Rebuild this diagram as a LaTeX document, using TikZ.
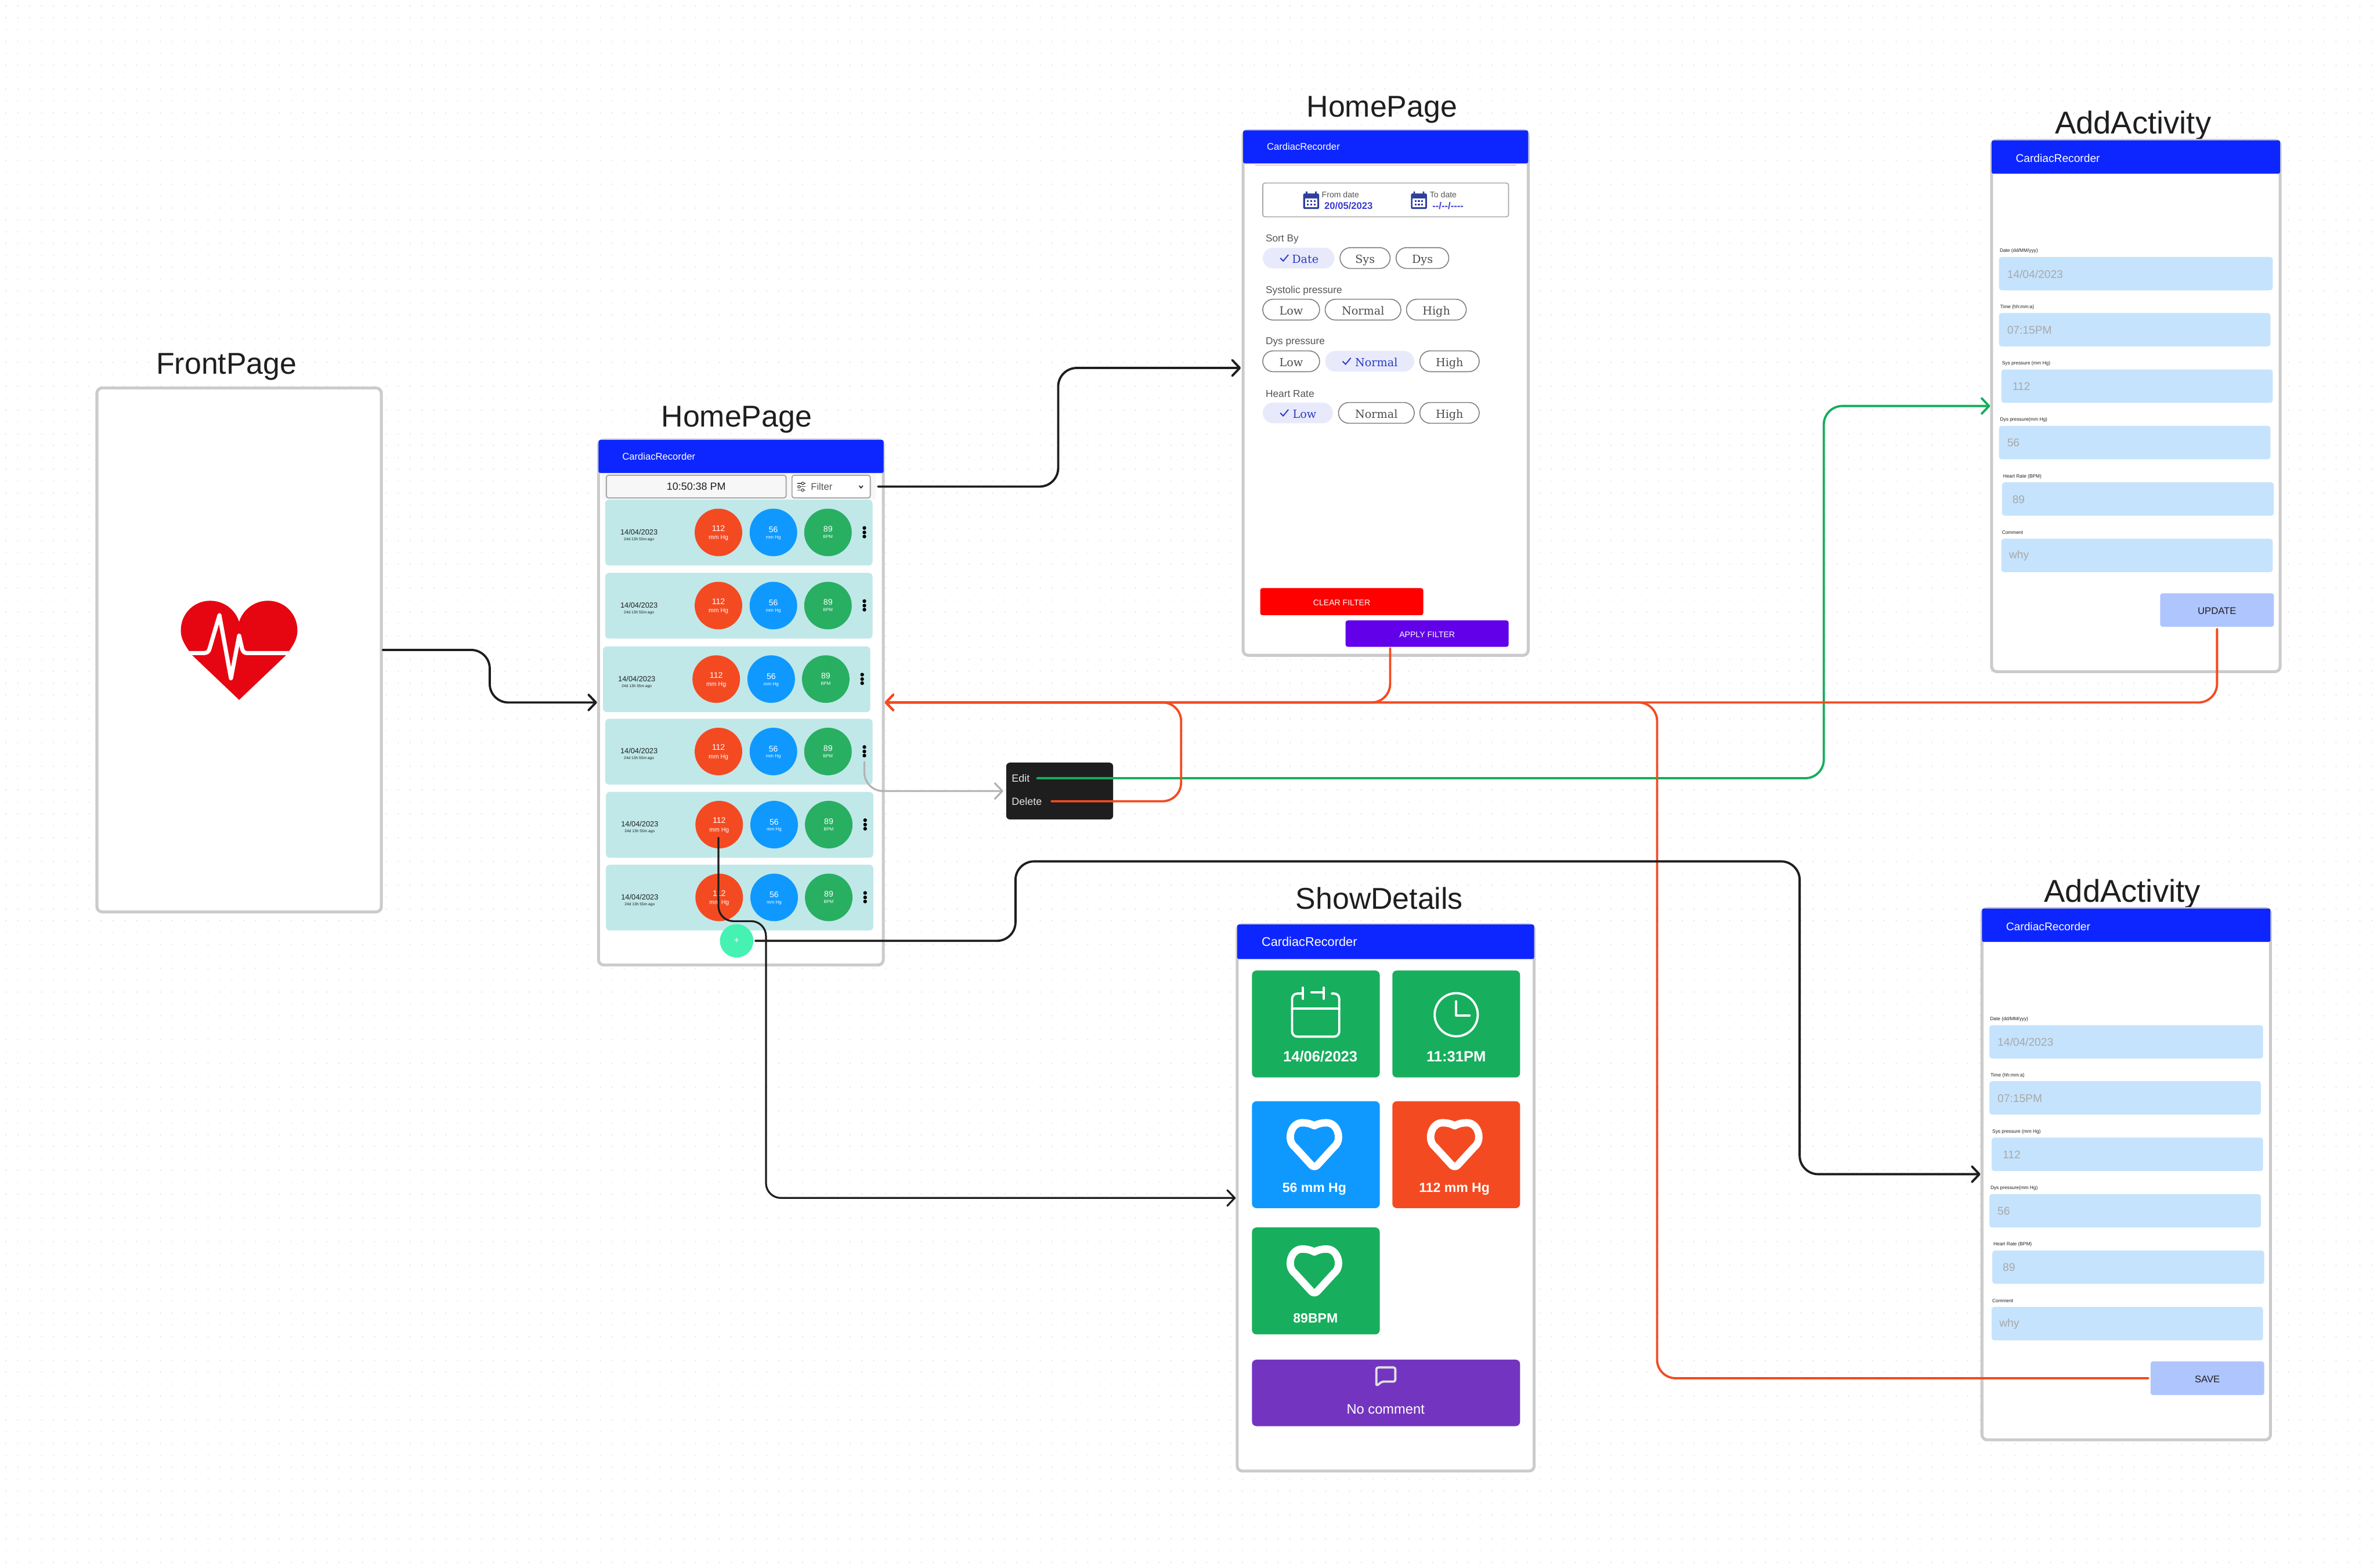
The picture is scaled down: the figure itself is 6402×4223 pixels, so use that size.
\documentclass[tikz,border=0pt]{standalone}
\usepackage{fontspec}
\setmainfont{Liberation Sans}
\newfontfamily\chipfont{DejaVu Serif}
\usetikzlibrary{arrows.meta}
\newcommand{\fpx}[1]{\fontsize{\fpeval{#1*0.2845}}{\fpeval{#1*0.3}}\selectfont}
\definecolor{ink}{HTML}{1E1E1E}
\definecolor{hdr}{HTML}{0D26FF}
\definecolor{pborder}{HTML}{CBCBCB}
\definecolor{tile}{HTML}{C0E8E9}
\definecolor{cred}{HTML}{F44A22}
\definecolor{cblue}{HTML}{0F99FF}
\definecolor{cgreen}{HTML}{28AF62}
\definecolor{tgreen}{HTML}{17AE5E}
\definecolor{cgrn}{HTML}{14AE5C}
\definecolor{cpurple}{HTML}{7335C0}
\definecolor{fieldbg}{HTML}{C5E3FD}
\definecolor{fieldtx}{HTML}{A8A8A8}
\definecolor{btnbg}{HTML}{AFC5FD}
\definecolor{chipsel}{HTML}{E8EAFC}
\definecolor{chiptx}{HTML}{2A3BC0}
\definecolor{caldark}{HTML}{2E3F9E}
\definecolor{datetx}{HTML}{3A3AD0}
\definecolor{softgray}{HTML}{555555}
\definecolor{fabc}{HTML}{45F2B2}
\definecolor{heartred}{HTML}{E60612}
\definecolor{applyc}{HTML}{6200EA}
\tikzset{
  x=0.01cm,y=-0.01cm,
  dotst/.style={draw=black!9,line width=.04cm,line cap=round,dash pattern=on 0.001cm off 0.319cm},
  panelst/.style={draw=pborder,fill=white,line width=.08cm,rounded corners=.14cm,inner sep=0},
  header/.style={fill=hdr,rounded corners=.05cm,inner sep=0,outer sep=0},
  box/.style={inner sep=0,outer sep=0,rounded corners=.06cm},
  txt/.style={inner sep=0,outer sep=0},
  title/.style={txt,text=ink,font=\fpx{81}},
  conn/.style={-{Straight Barb[length=.2cm,width=.42cm,round]},line width=.06cm,line cap=round,rounded corners=.5cm},
  chipoff/.style={box,rounded corners=.28cm,draw=black!50,line width=.025cm,fill=white,text=black!70,text height=.27cm,text depth=0cm,font=\chipfont\fpx{30}},
  chipon/.style={box,rounded corners=.28cm,fill=chipsel,text=chiptx,text height=.27cm,text depth=0cm,font=\chipfont\fpx{30}},
  checkst/.style={draw=chiptx,line width=.03cm},
  heartst/.style={draw=white,line width=.2cm,line join=round},
  iconst/.style={draw=white,line width=.06cm,line cap=round},
}
\newcommand{\panelnode}[5]{\node[panelst,anchor=north west,minimum width={((#4)-(#2)-8)*0.01cm},minimum height={((#5)-(#3)-8)*0.01cm}] (#1) at (#2,#3) {};}
\newcommand{\boxnode}[6]{\node[box,#6,anchor=north west,minimum width={((#4)-(#2))*0.01cm},minimum height={((#5)-(#3))*0.01cm}] (#1) at (#2,#3) {};}
\newcommand{\chipnode}[6]{\node[#1,anchor=north west,minimum width={((#4)-(#3))*0.01cm},minimum height=.56cm] (#2) at (#3,#5) {#6};}
\newcommand{\chiptick}[1]{\draw[checkst] ([xshift=.47cm]#1.west) -- ++(8,8) -- ++(14,-17);}
\newcommand{\calicon}[2]{%
  \fill[caldark,rounded corners=.03cm] (#1,#2+5) rectangle (#1+43,#2+47);
  \fill[caldark] (#1+7,#2) rectangle (#1+11,#2+8) (#1+32,#2) rectangle (#1+36,#2+8);
  \fill[white] (#1+5,#2+19) rectangle (#1+38,#2+42);
  \foreach \u in {10,19,28}{\foreach \v in {23,33}{\fill[caldark] (#1+\u,#2+\v) rectangle (#1+\u+5,#2+\v+5);}}
}
\newcommand{\oheart}[2]{%
  \draw[heartst,shift={(#1,#2)}] (0,18) .. controls (-10,12) and (-22,10) .. (-33,10)
    .. controls (-52,10) and (-65,28) .. (-65,49) .. controls (-65,60) and (-60,70) .. (-52,76)
    -- (-8,124) .. controls (-4,129) and (4,129) .. (8,124) -- (52,76)
    .. controls (60,70) and (65,60) .. (65,49) .. controls (65,28) and (52,10) .. (33,10)
    .. controls (22,10) and (10,12) .. (0,18) -- cycle;
}
\begin{document}
\begin{tikzpicture}
\useasboundingbox (0,0) rectangle (6402,4223);
\fill[white] (0,0) rectangle (6402,4223);
\foreach \k in {0,...,131}{\draw[dotst] (16,{16+32*\k}) -- (6390,{16+32*\k});}

% ---------- titles
\node[title] (tFront) at (610,988) {FrontPage};
\node[title] (tHome) at (1984,1130) {HomePage};
\node[title] (tFilter) at (3722,295) {HomePage};
\node[title,font=\fpx{85}] (tAddA) at (5745,339) {AddActivity};
\node[title] (tDetails) at (3715,2419) {ShowDetails};
\node[title,font=\fpx{85}] (tAddB) at (5716,2408) {AddActivity};

% ---------- FrontPage
\panelnode{front}{257}{1041}{1031}{2460}
\fill[heartred] (644,1885) -- (518,1765) -- (509,1753)
  .. controls (497,1735) and (487,1720) .. (487,1698)
  .. controls (487,1652) and (523,1618) .. (566,1618)
  .. controls (603,1618) and (634,1642) .. (644,1675)
  .. controls (654,1642) and (685,1618) .. (722,1618)
  .. controls (765,1618) and (801,1652) .. (801,1698)
  .. controls (801,1720) and (791,1735) .. (779,1753) -- (770,1765) -- cycle;
\draw[white,line width=.11cm,line join=round,line cap=round] (495,1759) -- (548,1759)
  .. controls (558,1759) and (563,1755) .. (565,1745) -- (591,1657) -- (622,1827) -- (644,1712) -- (652,1747)
  .. controls (654,1755) and (658,1759) .. (666,1759) -- (790,1759);

% ---------- HomePage (list)
\panelnode{home}{1608}{1181}{2383}{2603}
\boxnode{strip}{1621}{1274}{2359}{1346}{fill=black!3,rounded corners=0}
\boxnode{homehdr}{1612}{1185}{2380}{1274}{header}
\node[txt,anchor=west,text=white,font=\fpx{26}] (homettl) at (1676,1229) {CardiacRecorder};
\node[box,draw=black!35,line width=.03cm,fill=black!3,anchor=north west,minimum width=4.84cm,minimum height=.61cm,font=\fpx{28},text=ink] (clock) at (1633,1280) {10:50:38 PM};
\boxnode{filterbtn}{2133}{1280}{2344}{1341}{draw=black!35,line width=.03cm,fill=white}
\node[txt,anchor=west,text=softgray,font=\fpx{26}] (filterlbl) at (2184,1311) {Filter};
\foreach \yy/\kx in {1302/2162,1311/2152,1320/2162}{
  \draw[softgray,line width=.02cm] (2147,\yy) -- (2169,\yy);
  \filldraw[draw=softgray,fill=white,line width=.02cm] (\kx,\yy) circle (.035cm);
}
\draw[ink,line width=.025cm] (2314,1308) -- (2319,1314) -- (2324,1308);

\foreach \i/\dx/\tp in {1/0/1346,2/0/1543,3/-6/1741,4/0/1936,5/2/2133,6/2/2329}{
  \boxnode{row\i}{1630+\dx}{\tp}{2350+\dx}{\tp+177}{fill=tile,rounded corners=.1cm}
  \begin{scope}[shift={(1630+\dx,\tp)}]
    \node[txt,text=ink,font=\fpx{20}] (rd\i) at (91,87) {14/04/2023};
    \node[txt,text=ink,font=\fpx{10.4}] (rs\i) at (91,107) {24d 13h 55m ago};
    \node[circle,fill=cred,minimum size=1.28cm,inner sep=0] (cr\i) at (305,88) {};
    \node[circle,fill=cblue,minimum size=1.28cm,inner sep=0] (cb\i) at (453,88) {};
    \node[circle,fill=cgreen,minimum size=1.28cm,inner sep=0] (cg\i) at (600,88) {};
    \node[txt,text=white,font=\fpx{22}] (crn\i) at (305,77) {112};
    \node[txt,text=white,font=\fpx{16.5}] (cru\i) at (305,103) {mm Hg};
    \node[txt,text=white,font=\fpx{22}] (cbn\i) at (453,81) {56};
    \node[txt,text=white,font=\fpx{12.5}] (cbu\i) at (453,102) {mm Hg};
    \node[txt,text=white,font=\fpx{22}] (cgn\i) at (600,79) {89};
    \node[txt,text=white,font=\fpx{12}] (cgu\i) at (600,100) {BPM};
    \fill[black] (698,76) circle (.05cm) (698,88) circle (.05cm) (698,99) circle (.05cm);
  \end{scope}
}
\node[circle,fill=fabc,minimum size=.9cm,inner sep=0,text=white,font=\fpx{24}] (fab) at (1984,2534) {+};

% ---------- Popup
\boxnode{popup}{2710}{2054}{2998}{2207}{fill=ink,rounded corners=.1cm}
\node[txt,anchor=west,text=white!90!black,font=\fpx{28}] (edit) at (2725,2096) {Edit};
\node[txt,anchor=west,text=white!90!black,font=\fpx{28}] (del) at (2725,2158) {Delete};

% ---------- HomePage (filter)
\panelnode{fpage}{3344}{348}{4120}{1769}
\boxnode{fhdr}{3348}{351}{4116}{440}{header}
\node[txt,anchor=west,text=white,font=\fpx{26}] (fttl) at (3412,394) {CardiacRecorder};
\draw[violet!40,line width=.015cm] (3380,444) -- (4084,444);
\boxnode{datebox}{3401}{493}{4063}{584}{draw=black!35,line width=.025cm,fill=white}
\calicon{3510}{516}
\calicon{3800}{516}
\node[txt,anchor=west,text=softgray,font=\fpx{22}] (fromlbl) at (3560,524) {From date};
\node[txt,anchor=west,text=datetx,font=\bfseries\fpx{26}] (fromval) at (3567,555) {20/05/2023};
\node[txt,anchor=west,text=softgray,font=\fpx{22}] (tolbl) at (3851,524) {To date};
\node[txt,anchor=west,text=datetx,font=\bfseries\fpx{26}] (toval) at (3858,555) {{-}{-}/{-}{-}/{-}{-}{-}{-}};
\node[txt,anchor=west,text=softgray,font=\fpx{27}] (lblsort) at (3409,644) {Sort By};
\node[txt,anchor=west,text=softgray,font=\fpx{27}] (lblsys) at (3409,783) {Systolic pressure};
\node[txt,anchor=west,text=softgray,font=\fpx{27}] (lbldys) at (3409,921) {Dys pressure};
\node[txt,anchor=west,text=softgray,font=\fpx{27}] (lblhr) at (3409,1060) {Heart Rate};
\chipnode{chipon}{c11}{3401}{3594}{667}{\hspace{.36cm}Date}\chiptick{c11}
\chipnode{chipoff}{c12}{3609}{3744}{667}{Sys}
\chipnode{chipoff}{c13}{3760}{3902}{667}{Dys}
\chipnode{chipoff}{c21}{3401}{3554}{806}{Low}
\chipnode{chipoff}{c22}{3569}{3773}{806}{Normal}
\chipnode{chipoff}{c23}{3788}{3949}{806}{High}
\chipnode{chipoff}{c31}{3401}{3554}{945}{Low}
\chipnode{chipon}{c32}{3569}{3809}{945}{\hspace{.36cm}Normal}\chiptick{c32}
\chipnode{chipoff}{c33}{3824}{3984}{945}{High}
\chipnode{chipon}{c41}{3401}{3590}{1084}{\hspace{.36cm}Low}\chiptick{c41}
\chipnode{chipoff}{c42}{3605}{3809}{1084}{Normal}
\chipnode{chipoff}{c43}{3824}{3984}{1084}{High}
\node[box,fill=red,text=white,anchor=north west,minimum width=4.39cm,minimum height=.73cm,text height=.2cm,text depth=0cm,font=\fpx{22}] (clearbtn) at (3394,1584) {CLEAR FILTER};
\node[box,fill=applyc,text=white,anchor=north west,minimum width=4.39cm,minimum height=.71cm,text height=.2cm,text depth=0cm,font=\fpx{22}] (applybtn) at (3624,1671) {APPLY FILTER};

% ---------- AddActivity pages
\foreach \pg/\dx/\dy/\btn in {A/0/0/UPDATE,B/-26/2069/SAVE}{
\begin{scope}[shift={(\dx,\dy)}]
  \panelnode{add\pg}{5360}{374}{6145}{1813}
  \boxnode{hdr\pg}{5364}{378}{6141}{468}{header}
  \node[txt,anchor=west,text=white,font=\fpx{30}] (ttl\pg) at (5429,426) {CardiacRecorder};
  \foreach \j/\xa/\xb/\ya/\lx/\tx/\lab/\val in {
    1/5384/6121/692/5386/5406/{Date (dd/MM/yyy)}/{14/04/2023},
    2/5384/6115/843/5387/5406/{Time (hh:mm:a)}/07:15PM,
    3/5390/6121/995/5392/5420/{Sys pressure (mm Hg)}/112,
    4/5384/6115/1147/5387/5406/{Dys pressure(mm Hg)}/56,
    5/5392/6124/1299/5395/5420/{Heart Rate (BPM)}/89,
    6/5390/6121/1451/5392/5411/Comment/why}{
    \boxnode{fld\pg\j}{\xa}{\ya}{\xb}{\ya+90}{fill=fieldbg,rounded corners=.07cm}
    \node[txt,anchor=west,text=ink,font=\fpx{13}] (lab\pg\j) at (\lx,\ya-16) {\lab};
    \node[txt,anchor=west,text=fieldtx,font=\fpx{30}] (val\pg\j) at (\tx,\ya+46) {\val};
  }
  \node[box,fill=btnbg,text=ink,anchor=north west,minimum width=3.06cm,minimum height=.9cm,text height=.226cm,text depth=0cm,font=\fpx{26}] (btn\pg) at (5818,1598) {\btn};
\end{scope}
}

% ---------- ShowDetails
\panelnode{sd}{3328}{2487}{4136}{3966}
\boxnode{sdhdr}{3332}{2490}{4132}{2583}{header}
\node[txt,anchor=west,text=white,font=\fpx{34}] (sdttl) at (3398,2536) {CardiacRecorder};
\boxnode{t1}{3372}{2614}{3716}{2902}{fill=tgreen,rounded corners=.12cm}
\boxnode{t2}{3750}{2614}{4094}{2902}{fill=tgreen,rounded corners=.12cm}
\boxnode{t3}{3372}{2966}{3716}{3254}{fill=cblue,rounded corners=.12cm}
\boxnode{t4}{3750}{2966}{4094}{3254}{fill=cred,rounded corners=.12cm}
\boxnode{t5}{3372}{3306}{3716}{3594}{fill=tgreen,rounded corners=.12cm}
\boxnode{t6}{3372}{3662}{4094}{3841}{fill=cpurple,rounded corners=.12cm}
\node[txt,text=white,font=\bfseries\fpx{40}] (t1l) at (3556,2845) {14/06/2023};
\node[txt,text=white,font=\bfseries\fpx{40}] (t2l) at (3922,2845) {11:31PM};
\node[txt,text=white,font=\bfseries\fpx{36}] (t3l) at (3540,3202) {56 mm Hg};
\node[txt,text=white,font=\bfseries\fpx{36}] (t4l) at (3917,3202) {112 mm Hg};
\node[txt,text=white,font=\bfseries\fpx{36}] (t5l) at (3543,3550) {89BPM};
\node[txt,text=white,font=\fpx{37}] (t6l) at (3732,3795) {No comment};
\oheart{3540}{3014}
\oheart{3918}{3014}
\oheart{3540}{3354}
% calendar glyph
\draw[iconst,rounded corners=.14cm] (3509,2676) -- (3480,2676) -- (3480,2792) -- (3607,2792) -- (3607,2676) -- (3587,2676);
\draw[iconst] (3532,2673) -- (3565,2673) (3509,2660) -- (3509,2690) (3565,2660) -- (3565,2690) (3480,2716) -- (3607,2716);
% clock glyph
\draw[iconst] (3922,2733) circle (.58cm);
\draw[iconst,line join=round] (3922,2697) -- (3922,2735) -- (3958,2735);
% comment glyph
\draw[draw=black!12,line width=.06cm,line join=round,rounded corners=.05cm] (3707,3683) -- (3758,3683) -- (3758,3721) -- (3722,3721) -- (3707,3733) -- cycle;

% ---------- connector end points
\coordinate (fIn) at (3342,991);
\coordinate (fBend) at (2850,1150);
\coordinate (dotsOut) at (2328,2052);
\coordinate (gBend) at (4912,1500);
\coordinate (dBend) at (3181,2000);
\coordinate (sBend) at (4463,3000);
\coordinate (nA) at (2735,2320);
\coordinate (nB) at (4847,2700);
\coordinate (cOut) at (1935,2256);
\coordinate (cJog) at (2063,2481);
\coordinate (frontBend) at (1319,1821);
\coordinate (applyOut) at (3744,1746);

% ---------- connectors
\draw[conn,ink] (front.east) -- (front.east -| frontBend) -- (home.west -| frontBend) -- (home.west);
\draw[conn,ink,shorten <=.21cm] (filterbtn.east) -| (fBend) |- (fIn);
\draw[conn,black!30,line width=.05cm,shorten >=.08cm] (dotsOut) |- (popup.west);
\draw[conn,cgrn,shorten <=.2cm] (edit.east) -| (gBend) |- (addA.west);
\draw[conn,cred,shorten <=.26cm] (del.east) -| (dBend) |- (home.east);
\draw[conn,cred] (applyOut) |- (home.east);
\draw[conn,cred,shorten <=.06cm] (btnA.south) |- (home.east);
\draw[conn,cred,shorten <=.06cm] (btnB.west) -| (sBend) |- (home.east);
\draw[conn,ink,shorten <=.05cm] (fab.east) -| (nA) -| (nB) |- (addB.west);
\draw[conn,ink,line width=.05cm,rounded corners=.4cm] (cOut) |- (cJog) |- (sd.west);
\end{tikzpicture}
\end{document}
